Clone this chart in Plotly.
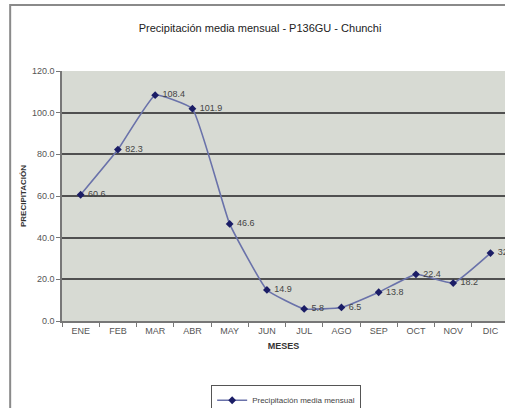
import plotly.graph_objects as go

meses = ["ENE", "FEB", "MAR", "ABR", "MAY", "JUN", "JUL", "AGO", "SEP", "OCT", "NOV", "DIC"]
precipitacion = [60.6, 82.3, 108.4, 101.9, 46.6, 14.9, 5.8, 6.5, 13.8, 22.4, 18.2, 32.6]
y_ticks = [0, 20, 40, 60, 80, 100, 120]
y_tick_labels = ["0.0", "20.0", "40.0", "60.0", "80.0", "100.0", "120.0"]

fig = go.Figure()
fig.add_trace(go.Scatter(
    x=meses, y=precipitacion,
    mode="lines+markers+text",
    name="Precipitación media mensual",
    line=dict(color="#6a72aa", width=1.6, shape="spline", smoothing=0.35),
    marker=dict(symbol="diamond", size=6, color="#1b1d66"),
    text=[f" {v:.1f}" for v in precipitacion],
    textposition="middle right",
    textfont=dict(family="Liberation Sans, Arial", size=9, color="#444444"),
    cliponaxis=False,
))

fig.update_layout(
    width=505, height=408,
    margin=dict(l=62, r=0, t=71, b=87, autoexpand=False),
    paper_bgcolor="white",
    plot_bgcolor="#d7dad3",
    title=dict(text="Precipitación media mensual - P136GU - Chunchi",
               x=0.515, xanchor="center", y=1 - 28/408, yanchor="middle",
               font=dict(family="Liberation Sans, Arial", size=11, color="#222222")),
    font=dict(family="Liberation Sans, Arial", color="#555555"),
    showlegend=True,
    legend=dict(x=0.506, xanchor="center", y=-0.255, yanchor="top",
                orientation="h", bgcolor="white", bordercolor="#555555", borderwidth=1,
                itemwidth=30, tracegroupgap=0,
                font=dict(family="Liberation Sans, Arial", size=8, color="#444444")),
    xaxis=dict(
        type="category", range=[-0.5, 11.39], automargin=False,
        showgrid=False, showline=True, linecolor="#777777", linewidth=1.5,
        ticks="outside", ticklen=4, tickcolor="#777777", tickson="boundaries",
        tickfont=dict(size=9, color="#555555"),
        title=dict(text="<b>MESES</b>", font=dict(size=9, color="#333333"), standoff=8),
    ),
    yaxis=dict(
        range=[0, 120], tickvals=y_ticks, ticktext=y_tick_labels, automargin=False,
        showgrid=True, gridcolor="#505050", gridwidth=1.5,
        showline=True, linecolor="#777777", linewidth=1.5,
        ticks="outside", ticklen=4, tickcolor="#777777",
        tickfont=dict(size=9, color="#555555"),
        zeroline=False,
        title=dict(text="<b>PRECIPITACIÓN</b>", font=dict(size=8, color="#333333"), standoff=4),
    ),
)

fig.add_shape(type="rect", xref="paper", yref="paper",
              x0=-0.117, x1=1.3, y0=-0.5, y1=1.264,
              line=dict(color="#8a8a8a", width=2), layer="below")

fig.write_html("out.html", config={"displayModeBar": False},
               post_script="document.body.style.margin='0';")
